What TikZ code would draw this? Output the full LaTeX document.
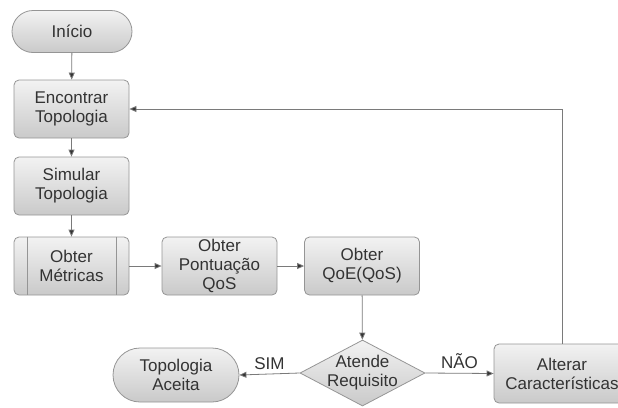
\documentclass[tikz,border=0pt]{standalone}
\usepackage{fontspec}
\setmainfont{Liberation Sans}
\usetikzlibrary{shapes.misc,shapes.geometric,arrows.meta}
\definecolor{edgegray}{HTML}{7A7A7A}
\definecolor{txtgray}{HTML}{333333}
\begin{document}
\begin{tikzpicture}[x=1pt,y=-1pt,
  every node/.style={font=\fontsize{17}{19}\selectfont, text=txtgray, align=center},
  boxbase/.style={draw=edgegray!80, line width=0.8pt, top color=gray!10, bottom color=gray!42, inner sep=0pt},
  procbox/.style={boxbase, rounded corners=5pt, minimum width=115pt, minimum height=58pt},
  pill/.style={boxbase, rounded rectangle, minimum width=120pt, minimum height=42pt},
  decision/.style={boxbase, diamond, minimum width=125pt, minimum height=66pt},
  flow/.style={draw=edgegray, line width=0.8pt, -{Triangle[length=7pt,width=6pt,fill=black!80]}}
]
\useasboundingbox (0,0) rectangle (618,407);
\node[pill] (ini) at (72,31.5) {Início};
\node[procbox] (enc) at (71.5,109) {Encontrar\\Topologia};
\node[procbox] (sim) at (71.5,186) {Simular\\Topologia};
\node[procbox] (met) at (71.5,266) {Obter\\Métricas};
\draw[edgegray!80, line width=0.8pt] ([xshift=14pt]met.north west) -- ([xshift=14pt]met.south west);
\draw[edgegray!80, line width=0.8pt] ([xshift=-13pt]met.north east) -- ([xshift=-13pt]met.south east);
\node[procbox] (pon) at (219.5,266) {Obter\\Pontuação\\QoS};
\node[procbox] (qoe) at (362,266) {Obter\\QoE(QoS)};
\node[decision] (dec) at (362.5,373) {};
\node (dect) at (dec.center) {Atende\\Requisito};
\node[pill, minimum width=126pt, minimum height=54pt] (ace) at (176,375) {Topologia\\Aceita};
\node[procbox, minimum width=136pt, minimum height=59pt] (alt) at (562,373.5) {Alterar\\Características};

\draw[flow] (ini) -- (enc);
\draw[flow] (enc) -- (sim);
\draw[flow] (sim) -- (met);
\draw[flow] (met) -- (pon);
\draw[flow] (pon) -- (qoe);
\draw[flow] (qoe) -- (dec);
\draw[flow] (dec.west) -- node[above=1pt] (simlbl) {SIM} (ace.east);
\draw[flow] (dec.east) -- node[above=1pt] (naolbl) {NÃO} (alt.west);
\draw[flow] (alt.north) |- (enc.east);
\end{tikzpicture}
\end{document}
